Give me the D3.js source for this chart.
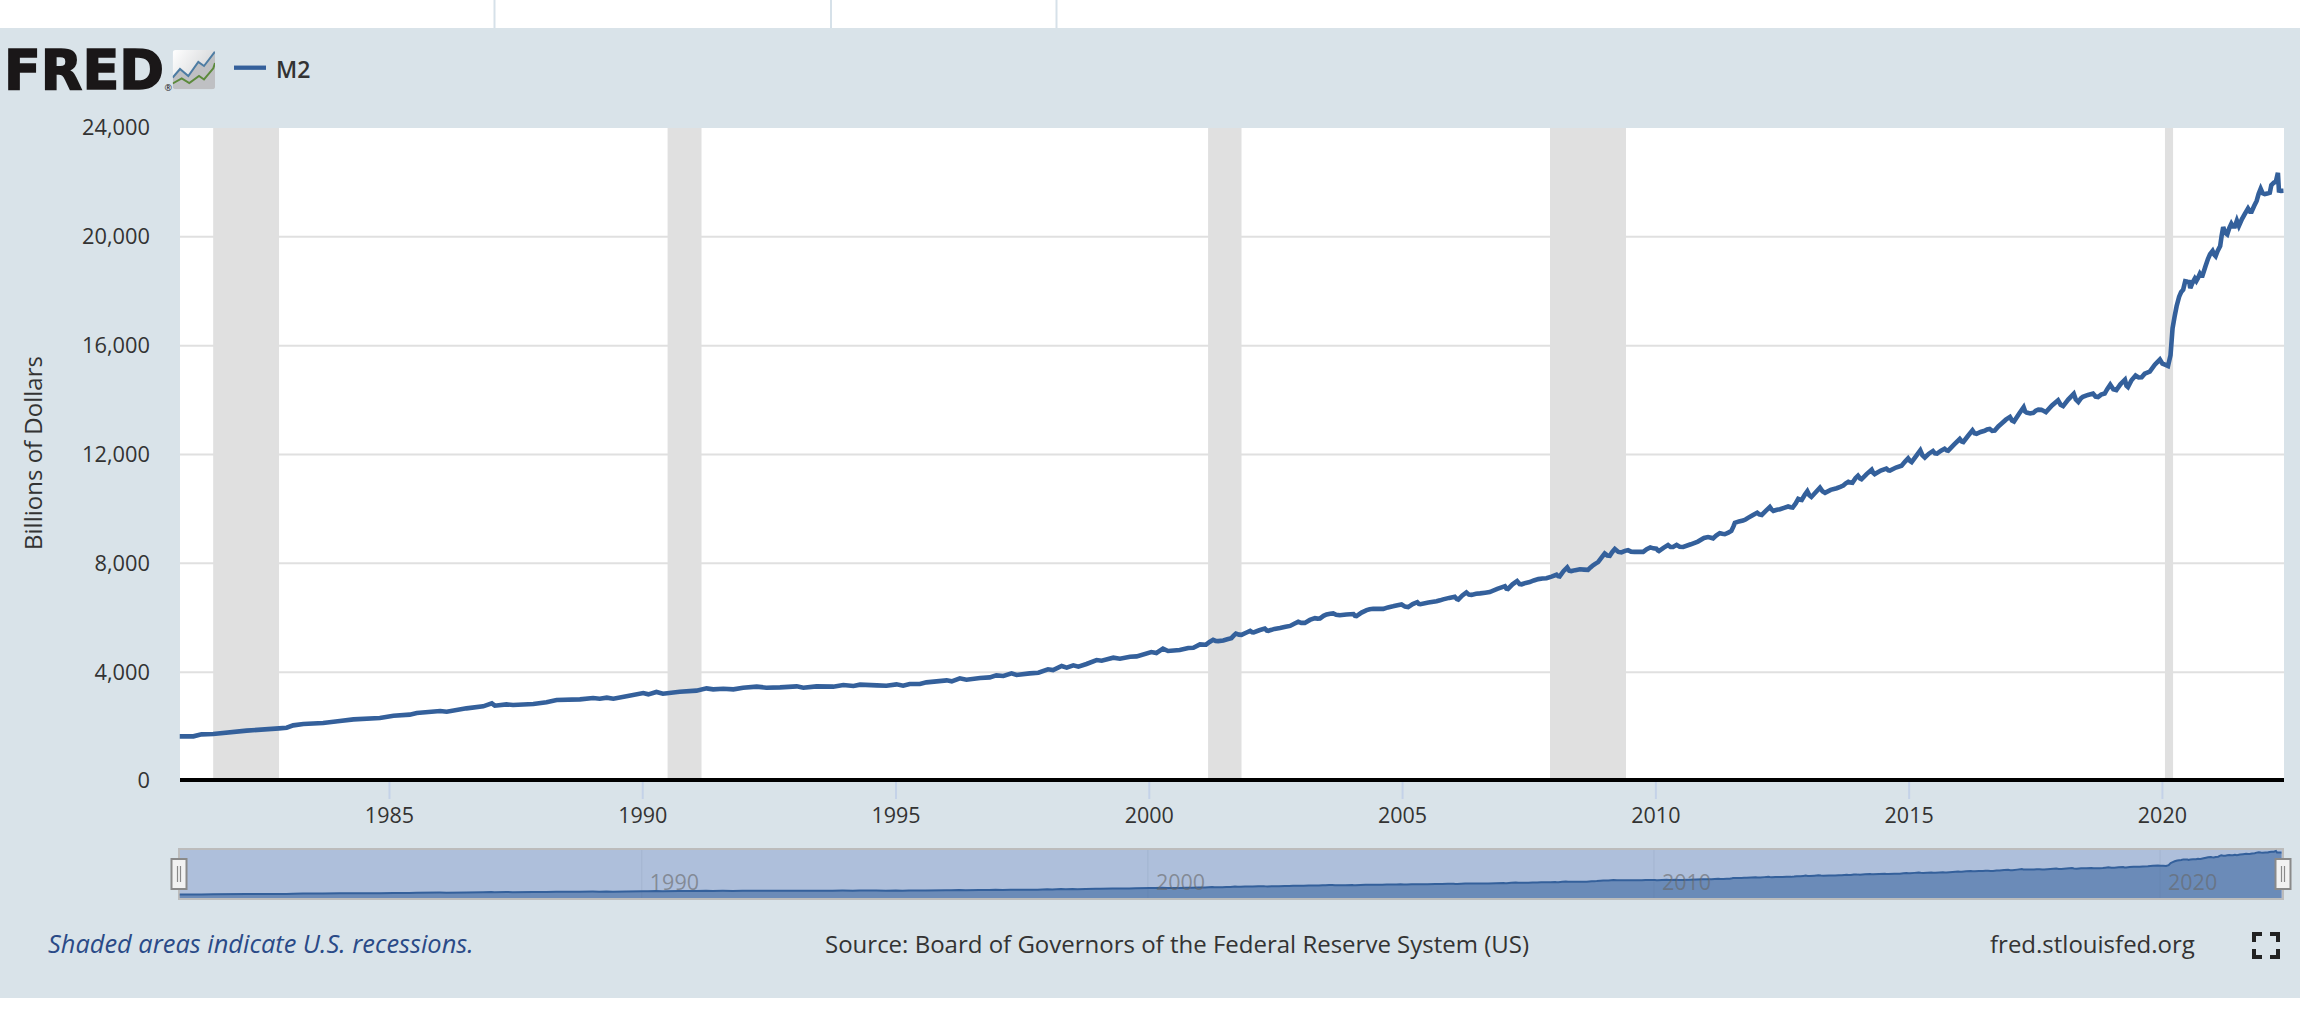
<!DOCTYPE html>
<html>
<head>
<meta charset="utf-8">
<title>M2</title>
<script src="https://cdnjs.cloudflare.com/ajax/libs/d3/7.8.5/d3.min.js"></script>
<style>
html,body{margin:0;padding:0;background:#fff;}
svg{display:block;}
text{font-family:"Open Sans",sans-serif;}
</style>
</head>
<body>
<svg id="chart" width="2300" height="1016"></svg>
<script>
const seriesName = "M2";
const yAxisTitle = "Billions of Dollars";
const yTickValues = [0,4000,8000,12000,16000,20000,24000];
const xTickYears = [1985,1990,1995,2000,2005,2010,2015,2020];
const navTickYears = [1990,2000,2010,2020];
const recessionStarts = [1981.53,1990.5,2001.17,2007.92,2020.06];
const recessionEnds = [1982.83,1991.17,2001.83,2009.42,2020.22];
const noteText = "Shaded areas indicate U.S. recessions.";
const sourceText = "Source: Board of Governors of the Federal Reserve System (US)";
const siteText = "fred.stlouisfed.org";

const years = [
1980.87,1981.14,1981.30,1981.53,1982.19,1982.83,1982.98,1983.11,1983.31,1983.70,1984.03,1984.30,1984.82,1985.09,1985.41,1985.55,1986.01,1986.14,1986.53,1986.86,1987.03,1987.09,1987.32,1987.45,1987.85,1988.11,1988.31,1988.77,1989.03,1989.16,1989.30,1989.43,1989.69,1990.02,1990.12,1990.28,1990.41,
1990.74,1991.07,1991.27,1991.40,1991.60,1991.80,1991.99,1992.26,1992.45,1992.72,1993.05,1993.18,1993.44,1993.77,1993.97,1994.17,1994.30,1994.63,1994.82,1995.02,1995.15,1995.28,1995.48,1995.61,1996.01,1996.11,1996.27,1996.40,1996.67,1996.86,1996.99,1997.13,1997.29,1997.39,1997.65,1997.82,1998.01,1998.11,1998.28,1998.38,1998.51,1998.61,1998.77,1998.97,1999.07,1999.30,1999.43,1999.63,1999.76,2000.05,2000.15,2000.28,2000.38,2000.61,2000.78,2000.88,2001.01,
2001.13,2001.20,2001.27,2001.32,2001.37,2001.47,2001.55,2001.63,2001.68,2001.72,2001.78,2001.83,2001.92,2002.00,2002.04,2002.07,2002.18,2002.29,2002.33,2002.36,2002.48,2002.59,2002.70,2002.79,2002.87,2002.95,2003.01,2003.08,2003.18,2003.28,2003.33,2003.38,2003.45,2003.51,2003.58,2003.64,2003.70,2003.77,2003.90,2004.04,2004.07,2004.10,2004.20,2004.30,2004.36,2004.43,2004.53,2004.63,2004.72,2004.82,2004.91,2004.99,2005.06,2005.12,2005.21,2005.30,2005.33,2005.36,2005.52,2005.68,2005.75,2005.81,2005.93,2006.04,2006.08,2006.11,2006.19,2006.27,2006.32,2006.37,2006.46,2006.54,2006.64,2006.73,2006.88,2007.03,2007.06,2007.09,2007.18,2007.27,2007.32,2007.36,2007.44,2007.52,2007.60,2007.69,2007.77,2007.85,2007.95,2008.05,2008.08,2008.11,2008.19,2008.26,2008.30,2008.34,2008.42,2008.51,2008.59,2008.67,2008.72,2008.77,2008.82,2008.87,2008.94,2009.00,2009.05,2009.10,2009.15,2009.20,2009.27,2009.33,2009.40,2009.46,2009.52,2009.59,2009.68,2009.76,2009.83,2009.90,2009.96,2010.02,2010.05,2010.07,2010.16,2010.25,2010.30,2010.35,2010.42,2010.48,2010.55,2010.70,2010.84,
2010.96,2011.04,2011.10,2011.14,2011.20,2011.27,2011.32,2011.37,2011.44,2011.50,2011.54,2011.57,2011.65,2011.73,2011.78,2011.83,2011.92,2012.01,2012.05,2012.10,2012.18,2012.26,2012.29,2012.33,2012.40,2012.46,2012.54,2012.62,2012.67,2012.71,2012.77,2012.82,2012.86,2012.89,2012.95,2013.00,2013.04,2013.08,2013.17,2013.25,2013.30,2013.35,2013.46,2013.58,2013.65,2013.71,2013.76,2013.81,2013.85,2013.89,2013.95,2014.00,2014.04,2014.07,2014.17,2014.27,2014.30,2014.33,2014.45,2014.56,2014.60,2014.63,2014.75,2014.86,2014.93,2014.99,2015.03,2015.06,2015.15,2015.23,2015.27,2015.32,2015.40,2015.48,2015.52,2015.56,2015.64,2015.71,2015.75,2015.78,2015.90,2016.01,2016.05,2016.08,2016.17,2016.26,2016.30,2016.34,2016.42,2016.50,2016.55,2016.60,2016.65,2016.70,2016.77,2016.83,2016.92,2017.00,2017.04,2017.08,2017.18,2017.27,2017.30,2017.33,2017.40,2017.46,2017.51,2017.56,2017.62,2017.67,2017.71,2017.83,2017.95,2018.00,2018.05,2018.15,2018.26,2018.30,2018.35,2018.40,2018.44,2018.54,2018.64,2018.69,2018.74,2018.80,2018.87,2018.92,2018.98,2019.04,2019.10,2019.18,2019.27,2019.30,2019.33,2019.40,2019.48,2019.54,2019.60,2019.66,2019.76,2019.86,2019.96,2020.01,2020.06,2020.12,
2020.17,2020.21,2020.25,2020.29,2020.34,2020.38,2020.42,2020.46,2020.51,2020.54,2020.56,2020.60,2020.65,2020.68,2020.71,2020.75,2020.78,2020.80,2020.86,2020.91,2020.95,2021.00,2021.03,2021.06,2021.10,2021.15,2021.18,2021.21,2021.25,2021.29,2021.33,2021.37,2021.40,2021.44,2021.48,2021.52,2021.58,2021.64,2021.70,2021.74,2021.77,2021.82,2021.87,2021.91,2021.95,2021.99,2022.03,2022.08,2022.13,2022.16,2022.21,2022.25,2022.29,2022.31,2022.35,2022.40
];
const m2Values = [
1641,1641,1715,1727,1850,1935,1960,2045,2094,2131,2205,2266,2315,2401,2438,2499,2572,2548,2670,2744,2854,2768,2817,2793,2829,2891,2976,3001,3050,3025,3062,3025,3111,3234,3185,3271,3209,
3283,3320,3405,3369,3393,3369,3430,3467,3430,3442,3479,3430,3479,3467,3528,3491,3540,3515,3503,3552,3503,3565,3565,3626,3699,3662,3773,3724,3785,3809,3883,3859,3956,3895,3956,3981,4104,4079,4226,4165,4251,4202,4300,4447,4422,4532,4496,4569,4581,4741,4704,4863,4777,4814,4888,4900,5022,
5010,5110,5190,5150,5140,5165,5210,5250,5350,5420,5380,5370,5450,5520,5470,5465,5540,5600,5530,5520,5590,5625,5670,5700,5780,5850,5810,5810,5920,5985,5970,5975,6070,6120,6150,6160,6110,6090,6120,6135,6070,6060,6190,6280,6310,6330,6325,6325,6380,6420,6460,6490,6410,6390,6500,6570,6510,6500,6560,6605,6640,6675,6730,6770,6690,6670,6820,6930,6850,6840,6880,6895,6920,6945,7060,7160,7070,7060,7230,7350,7240,7230,7280,7310,7370,7420,7440,7450,7510,7580,7530,7520,7720,7850,7730,7715,7750,7780,7770,7760,7850,7930,7990,8045,8220,8360,8290,8280,8420,8530,8420,8400,8460,8485,8430,8420,8420,8420,8520,8585,8550,8535,8470,8450,8570,8670,8600,8600,8680,8610,8600,8700,8800,
8930,8965,8940,8915,9020,9110,9085,9070,9130,9190,9350,9490,9540,9570,9610,9670,9770,9860,9800,9780,9930,10070,9990,9930,9970,9990,10040,10090,10060,10050,10200,10370,10340,10330,10520,10650,10500,10440,10620,10780,10650,10590,10700,10760,10810,10860,10940,11000,10970,10960,11130,11220,11120,11090,11280,11440,11330,11280,11410,11480,11420,11410,11520,11590,11740,11860,11760,11720,11950,12150,11980,11890,12030,12130,12040,12030,12140,12210,12150,12140,12370,12570,12480,12460,12680,12890,12780,12760,12830,12870,12920,12940,12870,12880,13030,13130,13280,13380,13250,13210,13500,13740,13580,13540,13510,13530,13610,13650,13640,13600,13560,13800,13990,13830,13780,14020,14230,14020,13930,14060,14120,14190,14240,14130,14110,14200,14240,14400,14570,14400,14370,14580,14750,14530,14480,14730,14900,14830,14840,14970,15050,15300,15490,15340,15300,15250,
15650,16640,17065,17450,17800,17970,18060,18370,18350,18340,18110,18300,18470,18380,18480,18650,18570,18570,18920,19190,19360,19480,19350,19290,19480,19660,20050,20360,20150,20090,20320,20480,20380,20380,20600,20400,20650,20850,21040,20920,20920,21130,21320,21580,21770,21600,21570,21590,21620,21900,21990,22030,22350,21700,21690,21695
];

const points = years.map((yr,i)=>({yr, v:m2Values[i]}));
const svg = d3.select("#chart");
const panelColor = "#d9e3e9";

svg.append("rect").attr("width",2300).attr("height",1016).attr("fill","#fff");
[494.5,831,1056.5].forEach(x=>svg.append("line").attr("x1",x).attr("x2",x).attr("y1",0).attr("y2",28).attr("stroke","#d6e1e9").attr("stroke-width",2));
svg.append("rect").attr("x",0).attr("y",28).attr("width",2300).attr("height",970).attr("fill",panelColor);

// header: logo
svg.append("text").text("FRED").attr("x",4).attr("y",89.3)
  .style("font-family","'DejaVu Sans'").style("font-weight",700).style("font-size","55px")
  .attr("textLength",160).attr("lengthAdjust","spacingAndGlyphs")
  .attr("fill","#1a1718").attr("stroke","#1a1718").attr("stroke-width",1.6);
svg.append("text").text("®").attr("x",164.5).attr("y",91).style("font-size","9px").attr("fill","#1a1718");

const defs = svg.append("defs");
const g0 = defs.append("linearGradient").attr("id","iconBg").attr("x1","0").attr("y1","0").attr("x2","1").attr("y2","0.6");
g0.append("stop").attr("offset","0").attr("stop-color","#ffffff");
g0.append("stop").attr("offset","1").attr("stop-color","#cfd1d4");
defs.append("clipPath").attr("id","iconClip").append("rect").attr("x",172.7).attr("y",50).attr("width",42.3).attr("height",39.3).attr("rx",3);
const icon = svg.append("g").attr("clip-path","url(#iconClip)");
icon.append("rect").attr("x",172.7).attr("y",50).attr("width",42.3).attr("height",39.3).attr("fill","url(#iconBg)");
const iconBlue = [[172.7,77.5],[180,69],[188.3,76],[198.3,62],[204,66],[215,51.5]];
const iconGreen = [[172.7,83.5],[181.7,78.5],[189.3,83],[199,76],[204,79.5],[213.3,68.3],[215,63]];
icon.append("path").attr("d",d3.line()(iconBlue.concat([[215,89.3],[172.7,89.3]]))+"Z").attr("fill","#bfc0c3");
icon.append("path").attr("d",d3.line()(iconBlue)).attr("fill","none").attr("stroke","#4d7ca3").attr("stroke-width",2);
icon.append("path").attr("d",d3.line()(iconGreen)).attr("fill","none").attr("stroke","#5c8a3c").attr("stroke-width",2);

// legend
svg.append("line").attr("x1",234).attr("x2",266).attr("y1",67.7).attr("y2",67.7).attr("stroke","#34609b").attr("stroke-width",4.3);
svg.append("text").text(seriesName).attr("x",276).attr("y",78.3).style("font-size","23px").style("font-weight",600).attr("fill","#333");

// scales
const plot = {l:180,r:2284,t:128,b:781};
const x = d3.scaleLinear().domain([1980.875,2022.41]).range([plot.l,plot.r]);
const y = d3.scaleLinear().domain([0,24000]).range([plot.b,plot.t]);

svg.append("rect").attr("x",plot.l).attr("y",plot.t).attr("width",plot.r-plot.l).attr("height",plot.b-plot.t).attr("fill","#fff");

// grid
svg.append("g").selectAll("line").data(yTickValues.filter(v=>v>0&&v<24000)).join("line")
  .attr("x1",plot.l).attr("x2",plot.r).attr("y1",d=>y(d)).attr("y2",d=>y(d)).attr("stroke","#e0e0e0").attr("stroke-width",2);

// recessions
svg.append("g").selectAll("rect").data(recessionStarts).join("rect")
  .attr("x",d=>x(d)).attr("width",(d,i)=>x(recessionEnds[i])-x(d))
  .attr("y",plot.t).attr("height",plot.b-plot.t).attr("fill","#e0e0e0");

// y tick labels via axis
const yAxis = d3.axisLeft(y).tickValues(yTickValues).tickSize(0).tickPadding(0).tickFormat(d3.format(","));
const yg = svg.append("g").attr("transform","translate(150,0)").call(yAxis);
yg.select(".domain").remove();
yg.selectAll("text").style("font-size","21.8px").attr("fill","#333");

// y title
svg.append("text").text(yAxisTitle).attr("transform","translate(32,453) rotate(-90)")
  .attr("text-anchor","middle").attr("dominant-baseline","central").style("font-size","24px").attr("fill","#333");

// x axis
const xAxis = d3.axisBottom(x).tickValues(xTickYears).tickSize(18).tickPadding(9).tickFormat(d3.format("d"));
const xg = svg.append("g").attr("transform","translate(0,781)").call(xAxis);
xg.select(".domain").remove();
xg.selectAll("line").attr("stroke","#c4d2e8").attr("stroke-width",2);
xg.selectAll("text").style("font-size","21.5px").attr("fill","#333");
svg.append("rect").attr("x",plot.l).attr("y",778).attr("width",plot.r-plot.l).attr("height",4).attr("fill","#000");

// series
svg.append("path").datum(points)
  .attr("d",d3.line().x(d=>x(d.yr)).y(d=>y(d.v)))
  .attr("fill","none").attr("stroke","#34609b").attr("stroke-width",4.6)
  .attr("stroke-linejoin","miter").attr("stroke-miterlimit",3);

// navigator
svg.append("rect").attr("x",178).attr("y",848).attr("width",2106).attr("height",52).attr("fill","#bcbcbc");
svg.append("rect").attr("x",180).attr("y",850).attr("width",2102).attr("height",48).attr("fill","#aebfdb");
const nx = d3.scaleLinear().domain(x.domain()).range([180,2282]);
const ny = d3.scaleLinear().domain([0,22357]).range([898,851]);
svg.append("g").selectAll("line").data(navTickYears).join("line")
  .attr("x1",d=>nx(d)).attr("x2",d=>nx(d)).attr("y1",850).attr("y2",898).attr("stroke","#a3b4d0").attr("stroke-width",1);
svg.append("path").datum(points)
  .attr("d",d3.area().x(d=>nx(d.yr)).y0(898).y1(d=>ny(d.v)))
  .attr("fill","#34609b").attr("fill-opacity",0.55);
svg.append("path").datum(points)
  .attr("d",d3.line().x(d=>nx(d.yr)).y(d=>ny(d.v)))
  .attr("fill","none").attr("stroke","#34609b").attr("stroke-width",2);
svg.append("g").selectAll("text").data(navTickYears).join("text")
  .text(d=>d).attr("x",d=>nx(d)+8).attr("y",890).style("font-size","21.5px").attr("fill","#666").attr("fill-opacity",0.6);

[179,2283].forEach(cx=>{
  svg.append("rect").attr("x",cx-7.5).attr("y",859).attr("width",15).attr("height",30).attr("fill","#f2f2f2").attr("stroke","#8a8a8a").attr("stroke-width",2);
  [cx-1.5,cx+1.5].forEach(lx=>svg.append("line").attr("x1",lx).attr("x2",lx).attr("y1",866).attr("y2",882).attr("stroke","#8a8a8a").attr("stroke-width",1.2));
});

// footer
svg.append("text").text(noteText).attr("x",48).attr("y",953).style("font-size","25.4px").style("font-style","italic").attr("fill","#2a4a87");
svg.append("text").text(sourceText).attr("x",825).attr("y",953).style("font-size","24px").attr("fill","#333");
svg.append("text").text(siteText).attr("x",1990).attr("y",953).style("font-size","24px").attr("fill","#333");

// fullscreen icon
const fs = {l:2254,r:2278,t:934,b:957,s:8};
[[fs.l,fs.t,1,1],[fs.r,fs.t,-1,1],[fs.l,fs.b,1,-1],[fs.r,fs.b,-1,-1]].forEach(([cx,cy,dx,dy])=>{
  svg.append("path").attr("d",`M${cx+dx*fs.s},${cy}H${cx}V${cy+dy*fs.s}`).attr("fill","none").attr("stroke","#222").attr("stroke-width",4);
});
</script>
</body>
</html>
